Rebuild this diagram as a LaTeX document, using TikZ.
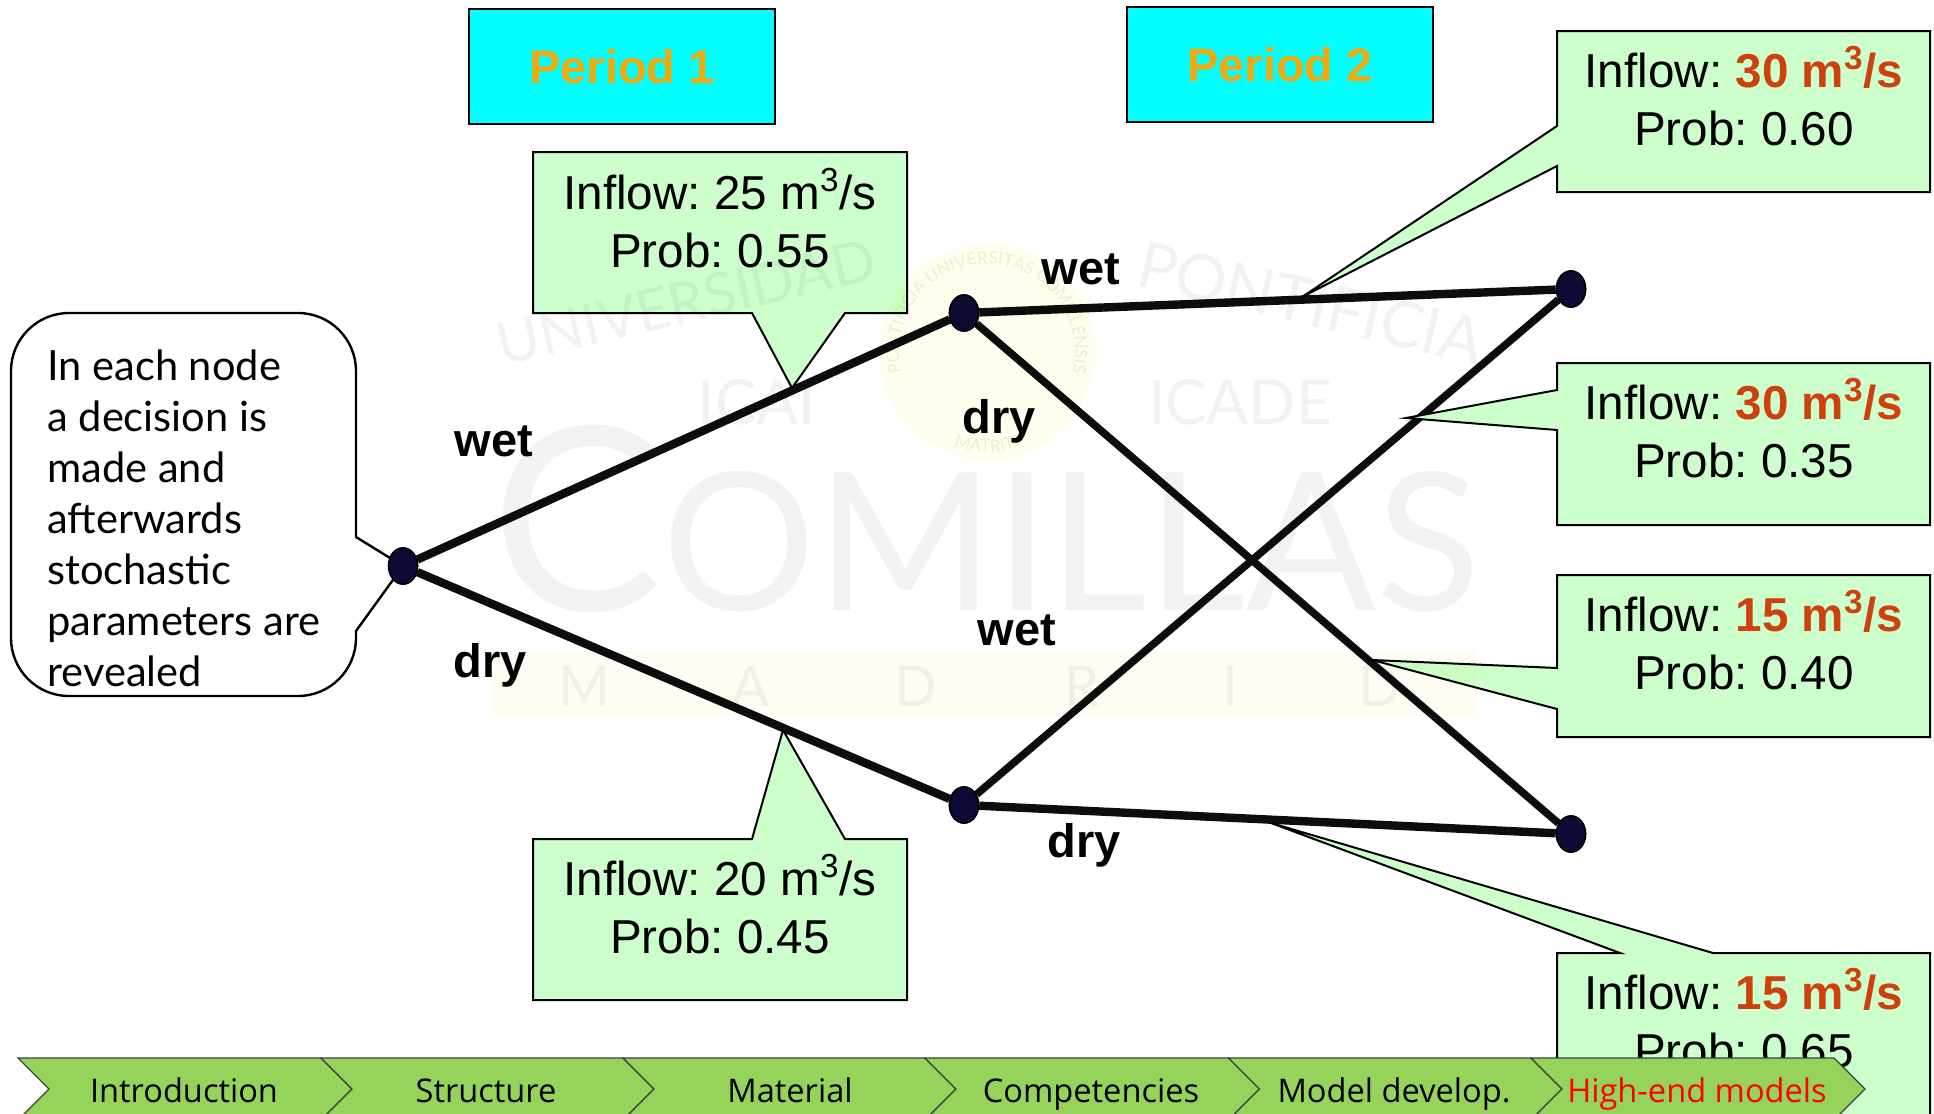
\documentclass[tikz,border=0pt]{standalone}
\usepackage{fontspec}
\setmainfont{Liberation Sans}
\newfontfamily\notefont{Lato}
\newfontfamily\barfont{Open Sans}
\newfontfamily\wmfont{Lato}
\usetikzlibrary{shapes.geometric,calc,decorations.text}
\definecolor{calloutfill}{HTML}{CCFFCC}
\definecolor{periodorange}{HTML}{EEAA0F}
\definecolor{periodfill}{HTML}{00FFFF}
\definecolor{valuered}{HTML}{CF400F}
\definecolor{barfill}{HTML}{95D35A}
\definecolor{nodenavy}{HTML}{0B0B35}
\definecolor{wmgray}{HTML}{F2F2F2}
\definecolor{wmband}{HTML}{FFFCF3}
\definecolor{wmseal}{HTML}{FFFDEE}
\definecolor{wmsealink}{HTML}{F3EFDC}
\newcommand{\hot}[1]{{\bfseries\color{valuered}#1 m\textsuperscript{3}/s}}
\frenchspacing
\tikzset{
  x=0.5pt,y=-0.5pt,
  callout/.style={draw=black,line width=1pt,fill=calloutfill,line join=miter},
  calltext/.style={align=center,font=\fontsize{23.8}{29}\selectfont,inner sep=0pt,text=black},
  periodbox/.style={draw=black,line width=1.3pt,fill=periodfill,inner sep=0pt,font=\fontsize{23.5}{28}\bfseries\selectfont,text=periodorange},
  treenode/.style={ellipse,draw=black,fill=nodenavy,line width=0.8pt,minimum width=14.5pt,minimum height=18pt,inner sep=0pt},
  branch/.style={line width=4.2pt,color=black!95,line cap=butt},
  crossbranch/.style={branch,line width=3.8pt},
  branchlabel/.style={font=\fontsize{23.5}{28}\bfseries\selectfont,text=black,inner sep=0pt},
  chevron/.style={draw=black!75,line width=0.6pt,fill=barfill},
  chevtext/.style={font=\barfont\fontsize{16.3}{20}\selectfont,text=black,inner sep=0pt,anchor=base},
  wm/.style={font=\wmfont,text=wmgray,inner sep=0pt},
}
\begin{document}
\begin{tikzpicture}
\useasboundingbox (0,0) rectangle (1934,1114);
\clip (0,0) rectangle (1934,1114);
\fill[white] (0,0) rectangle (1934,1114);
% tree
\node[treenode] (root) at (403,566) {};
\node[treenode] (up) at (964,313) {};
\node[treenode] (down) at (964,805) {};
\node[treenode] (endup) at (1571,289) {};
\node[treenode] (enddown) at (1571,834) {};
% note callout
\draw[line width=1.2pt,fill=white]
  (69,313) -- (298,313) arc[start angle=90,end angle=0,radius=29pt]
  -- (356,537) -- (root.center) -- (356,631) -- (356,638)
  arc[start angle=0,end angle=-90,radius=29pt] -- (69,696)
  arc[start angle=-90,end angle=-180,radius=29pt] -- (11,371)
  arc[start angle=180,end angle=90,radius=29pt] -- cycle;
\node[anchor=north west,inner sep=0pt,align=left,font=\notefont\fontsize{20.8}{25.5}\selectfont] (note) at (47,349)
  {In each node\\a decision is\\made and\\afterwards\\stochastic\\parameters are\\revealed};
% period boxes
\node[periodbox,minimum width=153pt,minimum height=57.5pt] (p1) at (622,66.5) {Period 1};
\node[periodbox,minimum width=153pt,minimum height=57.5pt] (p2) at (1280,64.5) {Period 2};
% branches
\draw[branch] (root) -- (up);
\draw[branch] (root) -- (down);
\draw[branch] (up) -- (endup);
\draw[crossbranch] (up) -- (enddown);
\draw[crossbranch] (down) -- (endup);
\draw[branch] (down) -- (enddown);
\node[treenode] at (root) {};\node[treenode] at (up) {};\node[treenode] at (down) {};\node[treenode] at (endup) {};\node[treenode] at (enddown) {};
% callouts
\coordinate (t25) at (792,388);
\coordinate (t20) at (783,730);
\coordinate (t30a) at (1302,297);
\coordinate (t30b) at (1406,418);
\coordinate (t15a) at (1372,660);
\coordinate (t15b) at (1271,823);
\draw[callout] (533,152) -- (907,152) -- (907,313) -- (845,313) -- (t25) -- (752,313) -- (533,313) -- cycle;
\node[calltext] (c25) at (720,218) {Inflow: 25 m\textsuperscript{3}/s\\Prob: 0.55};
\draw[callout] (533,839) -- (752,839) -- (t20) -- (845,839) -- (907,839) -- (907,1000) -- (533,1000) -- cycle;
\node[calltext] (c20) at (720,904) {Inflow: 20 m\textsuperscript{3}/s\\Prob: 0.45};
\draw[callout] (1557,31) -- (1930,31) -- (1930,192) -- (1557,192) -- (1557,166) -- (t30a) -- (1557,126) -- cycle;
\node[calltext] (c30a) at (1744,96) {Inflow: \hot{30}\\Prob: 0.60};
\draw[callout] (1557,363) -- (1930,363) -- (1930,525) -- (1557,525) -- (1557,430) -- (t30b) -- (1557,390) -- cycle;
\node[calltext] (c30b) at (1744,428) {Inflow: \hot{30}\\Prob: 0.35};
\draw[callout] (1557,575) -- (1930,575) -- (1930,737) -- (1557,737) -- (1557,709) -- (t15a) -- (1557,668) -- cycle;
\node[calltext] (c15a) at (1744,640) {Inflow: \hot{15}\\Prob: 0.40};
\draw[callout] (1557,953) -- (1620,953) -- (t15b) -- (1713,953) -- (1930,953) -- (1930,1130) -- (1557,1130) -- cycle;
\node[calltext] (c15b) at (1744,1018) {Inflow: \hot{15}\\Prob: 0.65};
% branch labels
\node[branchlabel] (l1) at (494,441) {wet};
\node[branchlabel] (l2) at (490,665) {dry};
\node[branchlabel] (l3) at (1081,269) {wet};
\node[branchlabel] (l4) at (999,421) {dry};
\node[branchlabel] (l5) at (1017,630) {wet};
\node[branchlabel] (l6) at (1084,845) {dry};
% bottom bar
\foreach \xa/\xb in {18/321,321/623,623/925,925/1228.5,1228.5/1531,1531/1834}
  \draw[chevron] (\xa,1058) -- (\xb,1058) -- ($(\xb,1089)+(31,0)$) -- (\xb,1120) -- (\xa,1120) -- ($(\xa,1089)+(31,0)$) -- cycle;
\node[chevtext] (b1) at (184,1102) {Introduction};
\node[chevtext] (b2) at (486,1102) {Structure};
\node[chevtext] (b3) at (790,1102) {Material};
\node[chevtext] (b4) at (1091,1102) {Competencies};
\node[chevtext] (b5) at (1394,1102) {Model develop.};
\node[chevtext,text=red] (b6) at (1697,1102) {High-end models};
% watermark, printed over everything and darkening only
\begin{scope}[blend mode=multiply]
\fill[wmband] (491,651) rectangle (1477,716);
\fill[wmseal] (987,352) circle [radius=54pt];
\path[decorate,decoration={text along path,text align=center,text={|\wmfont\fontsize{8.5}{10}\selectfont\color{wmsealink}|PONTIFICIA UNIVERSITAS COMILLENSIS}}]
  (987,352) ++(215:44pt) arc[start angle=215,end angle=-35,radius=44pt];
\path[decorate,decoration={text along path,text align=center,text={|\wmfont\fontsize{8.5}{10}\selectfont\color{wmsealink}|MATRITI}}]
  (987,352) ++(245:50pt) arc[start angle=245,end angle=295,radius=50pt];
\node[wm,anchor=base,font=\wmfont\fontsize{96}{100}\selectfont] (wmc) at (986,610) {\fontsize{128}{130}\selectfont C\fontsize{96}{100}\selectfont OMILLAS};
\node[wm,font=\wmfont\fontsize{29}{36}\selectfont,rotate=13] (wmu) at (686,302) {UNIVERSIDAD};
\node[wm,font=\wmfont\fontsize{32}{36}\selectfont,rotate=-13] (wmp) at (1311,303) {PONTIFICIA};
\node[wm,font=\wmfont\fontsize{31}{36}\selectfont] (wmi) at (757,402) {ICAI};
\node[wm,font=\wmfont\fontsize{31}{36}\selectfont] (wme) at (1240,402) {ICADE};
\foreach \ch/\px in {M/584,A/750,D/916,R/1082,I/1230,D/1380}
  \node[wm,font=\wmfont\fontsize{28}{30}\selectfont] at (\px,686) {\ch};
\end{scope}
\end{tikzpicture}
\end{document}
